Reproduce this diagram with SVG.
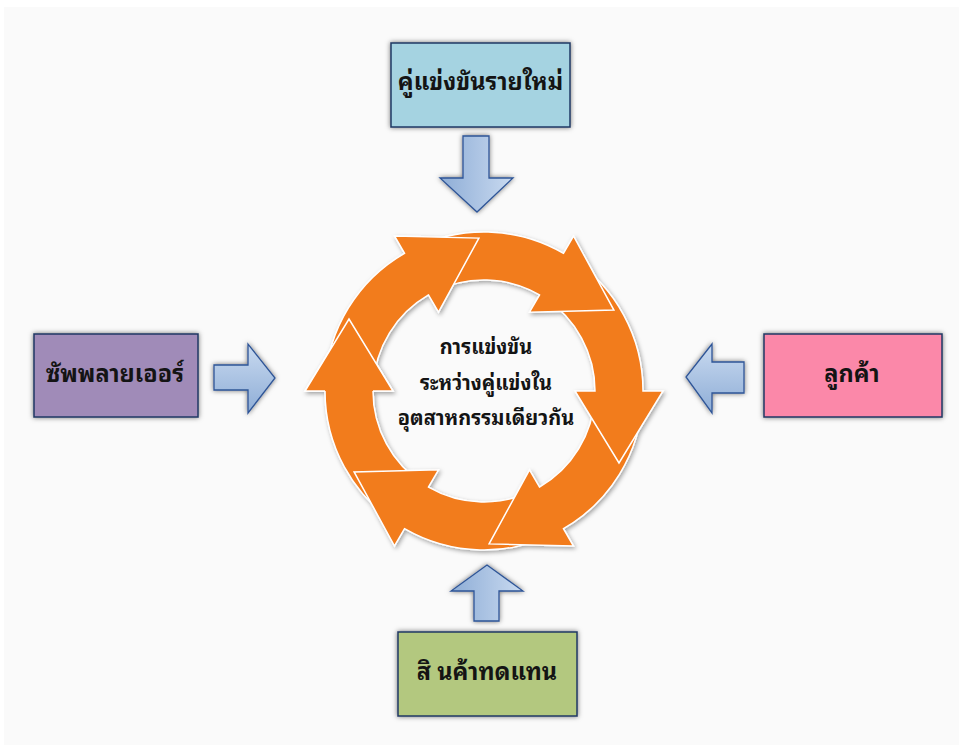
<svg xmlns="http://www.w3.org/2000/svg" width="959" height="745" viewBox="0 0 959 745">
<style>
.box{stroke:#203864;stroke-width:1.5}
.lbl{font-family:Tahoma,"Noto Sans Thai Looped","Noto Serif Thai",Loma,Garuda,"Noto Sans Thai","Noto Sans","DejaVu Sans",sans-serif;font-weight:bold;fill:#141414;text-anchor:middle}
.big{font-size:23.5px}
.mid{font-size:20px}
.barrow{stroke:#2f5597;stroke-width:1.3;stroke-linejoin:miter}
.ring{fill:#f27b1d;stroke:#ffffff;stroke-width:1.5;stroke-linejoin:miter}
</style>
<defs>
<filter id="sh" x="-20%" y="-20%" width="140%" height="140%">
<feDropShadow dx="0" dy="0" stdDeviation="2.5" flood-color="#000" flood-opacity="0.55"/>
</filter>
<filter id="sh2" x="-20%" y="-20%" width="140%" height="140%">
<feDropShadow dx="1.5" dy="2" stdDeviation="2" flood-color="#000" flood-opacity="0.35"/>
</filter>
<linearGradient id="gv" x1="0" y1="0" x2="1" y2="0">
<stop offset="0" stop-color="#8eadd6"/>
<stop offset="1" stop-color="#c9daf0"/>
</linearGradient>
<linearGradient id="gh" x1="0" y1="0" x2="0" y2="1">
<stop offset="0" stop-color="#c9daf0"/>
<stop offset="1" stop-color="#8eadd6"/>
</linearGradient>
</defs>
<rect x="4" y="7" width="955" height="738" fill="#fafafa"/>

<g id="connectors">
<path class="barrow" fill="url(#gv)" filter="url(#sh)" d="M463,136 L489,136 L489,178 L513,178 L477,212 L440,178 L463,178 Z"/>
<path class="barrow" fill="url(#gv)" filter="url(#sh)" d="M474,621 L499,621 L499,591 L523,591 L487,565 L451,591 L474,591 Z"/>
<path class="barrow" fill="url(#gh)" filter="url(#sh)" d="M214,365 L248,365 L248,344 L275,378 L248,413 L248,390 L214,390 Z"/>
<path class="barrow" fill="url(#gh)" filter="url(#sh)" d="M744,362 L712,362 L712,344 L686,377 L712,413 L712,393 L744,393 Z"/>
</g>

<g id="ring" filter="url(#sh2)">
<path class="ring" d="M397.5,524.4 A159,159 0 0 1 325,391 L305,391 L349,319 L393,391 L373,391 A111,111 0 0 0 423.5,484.1 Z"/>
<path class="ring" d="M556.2,532.7 A159,159 0 0 1 404.5,528.7 L394.5,546 L354.1,471.9 L438.5,469.8 L428.5,487.1 A111,111 0 0 0 534.4,489.9 Z"/>
<path class="ring" d="M642.8,399.3 A159,159 0 0 1 563.5,528.7 L573.5,546 L489.1,543.9 L529.5,469.8 L539.5,487.1 A111,111 0 0 0 594.8,396.8 Z"/>
<path class="ring" d="M570.6,257.7 A159,159 0 0 1 643,391 L663,391 L619,463 L575,391 L595,391 A111,111 0 0 0 544.5,297.9 Z"/>
<path class="ring" d="M411.8,249.3 A159,159 0 0 1 563.5,253.3 L573.5,236 L613.9,310.1 L529.5,312.2 L539.5,294.9 A111,111 0 0 0 433.6,292.1 Z"/>
<path class="ring" d="M325.2,382.7 A159,159 0 0 1 404.5,253.3 L394.5,236 L478.9,238.1 L438.5,312.2 L428.5,294.9 A111,111 0 0 0 373.2,385.2 Z"/>
<path class="ring" d="M325,391 L305,391 L349,319 L393,391 L373,391"/>
</g>

<g id="center">
<text class="lbl mid" x="486" y="354">การแข่งขัน</text>
<text class="lbl mid" x="486" y="390">ระหว่างคู่แข่งใน</text>
<text class="lbl mid" x="486" y="425">อุตสาหกรรมเดียวกัน</text>
</g>

<g id="new-entrants">
<rect class="box" x="391" y="43" width="179" height="84" fill="#a5d3e1" filter="url(#sh)"/>
<text class="lbl big" x="480.5" y="90">คู่แข่งขันรายใหม่</text>
</g>
<g id="suppliers">
<rect class="box" x="34" y="334" width="164" height="83" fill="#a08bb8" filter="url(#sh)"/>
<text class="lbl big" x="115" y="382">ซัพพลายเออร์</text>
</g>
<g id="customers">
<rect class="box" x="764" y="334" width="178" height="83" fill="#fb88a9" filter="url(#sh)"/>
<text class="lbl big" x="852" y="382">ลูกค้า</text>
</g>
<g id="substitutes">
<rect class="box" x="398" y="632" width="179" height="84" fill="#b3c87f" filter="url(#sh)"/>
<text class="lbl big" x="487" y="680">สิ นค้าทดแทน</text>
</g>
</svg>
